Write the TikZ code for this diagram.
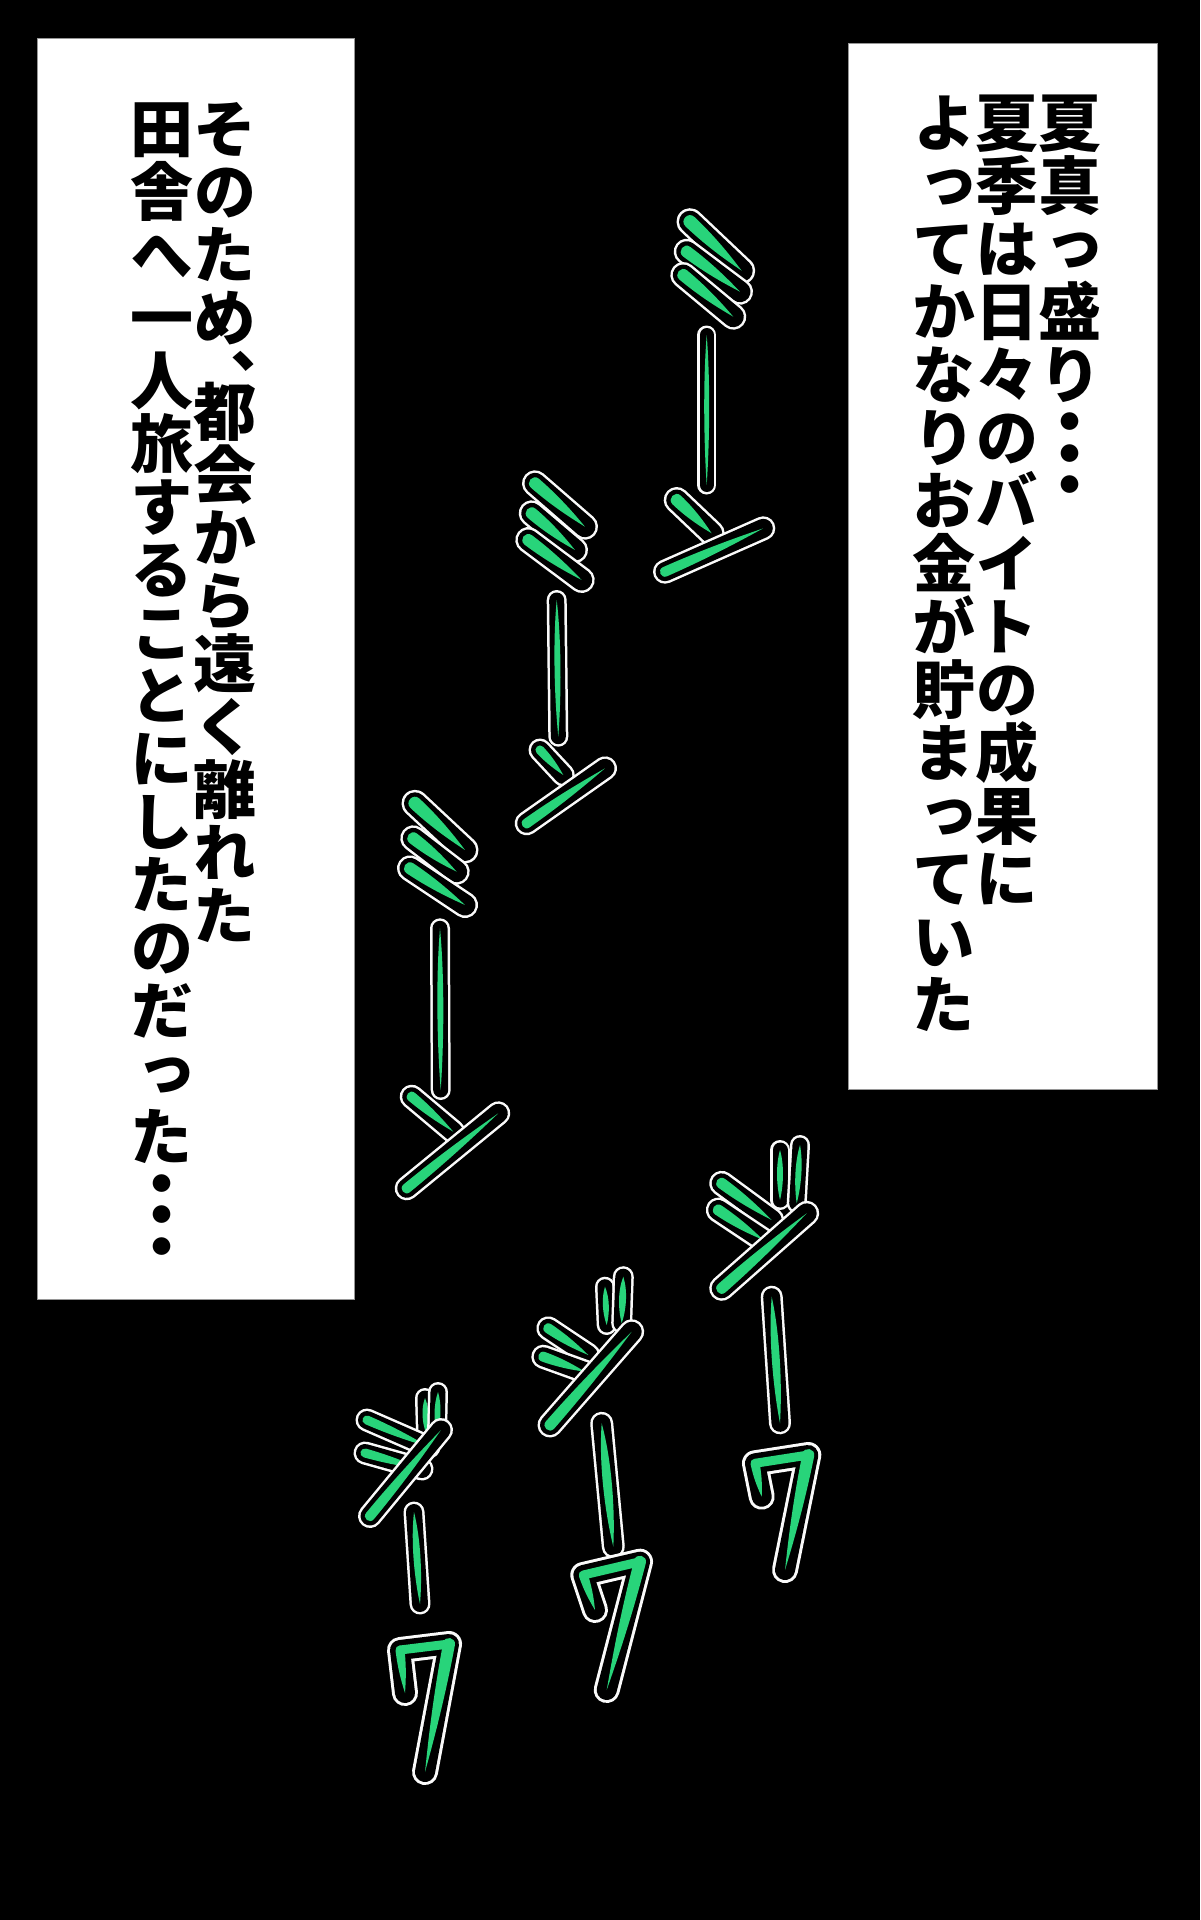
\documentclass[tikz,border=0pt]{standalone}
\usepackage{fontspec}
\newfontfamily\jp{Noto Sans CJK JP}[RawFeature=+vert]
\definecolor{sfgreen}{RGB}{40,212,122}
\definecolor{sfwhite}{RGB}{250,250,250}
\definecolor{panelline}{RGB}{150,150,150}
% green leaf: thick end (#1,#2), pointed end (#3,#4), width #5
\newcommand\sfleafgreen[5]{%
  \pgfmathsetmacro\lfang{atan2(-(#4-#2),#3-#1)}%
  \pgfmathsetmacro\lflen{veclen(#3-#1,#4-#2)}%
  \begin{scope}[shift={(#1,#2)}, rotate=\lfang]
    \fill[sfgreen] (0,#5/2) .. controls (0.45*\lflen,#5/2) and (0.8*\lflen,#5*0.18) .. (\lflen,0)
      .. controls (0.8*\lflen,-#5*0.18) and (0.45*\lflen,-#5/2) .. (0,-#5/2)
      .. controls (-0.667*#5,-#5/2) and (-0.667*#5,#5/2) .. (0,#5/2) -- cycle;
  \end{scope}}
\newcommand\sfcapsule[5]{%
  \draw[sfwhite, line width=#5pt+14pt, line cap=round] (#1,#2) -- (#3,#4);
  \draw[black, line width=#5pt+9pt, line cap=round] (#1,#2) -- (#3,#4);}
\newcommand\sfleaf[5]{%
  \sfcapsule{#1}{#2}{#3}{#4}{#5}%
  \sfleafgreen{#1}{#2}{#3}{#4}{#5}}
% spindle bar, pointed at both ends
\newcommand\sfbar[5]{%
  \sfcapsule{#1}{#2}{#3}{#4}{#5}%
  \pgfmathsetmacro\lfang{atan2(-(#4-#2),#3-#1)}%
  \pgfmathsetmacro\lflen{veclen(#3-#1,#4-#2)}%
  \begin{scope}[shift={(#1,#2)}, rotate=\lfang]
    \fill[sfgreen] (0,0) .. controls (0.3*\lflen,0.72*#5) and (0.7*\lflen,0.6*#5) .. (\lflen,0)
      .. controls (0.7*\lflen,-0.6*#5) and (0.3*\lflen,-0.72*#5) .. (0,0) -- cycle;
  \end{scope}}
% katakana wa: top-left, left-bottom, top-right, bottom point
\newcommand\sfwa[8]{%
  \draw[sfwhite, line width=26pt, line cap=round, line join=round] (#3,#4) -- (#1,#2) -- (#5,#6) -- (#7,#8);
  \draw[black, line width=20pt, line cap=round, line join=round] (#3,#4) -- (#1,#2) -- (#5,#6) -- (#7,#8);
  \draw[sfgreen, line width=9pt, line join=round] (#1,#2) -- (#5,#6);
  \sfleafgreen{#1}{#2}{#3}{#4}{9}%
  \sfleafgreen{#5}{#6}{#7}{#8}{12}}
\begin{document}
\begin{tikzpicture}[x=1pt, y=-1pt,
  panel/.style={draw=panelline, line width=1pt, fill=white, inner sep=0pt},
  vcol/.style={anchor=north, inner sep=0pt, align=center, text=black,
    font={\jp\bfseries\fontsize{63pt}{63pt}\selectfont\lineskiplimit=-200pt}}]
\fill[black] (0,0) rectangle (1200,1920);
\useasboundingbox (0,0) rectangle (1200,1920);

% text panels
\node[panel, minimum width=317pt, minimum height=1261pt] (lbox) at (195.5,668.5) {};
\node[panel, minimum width=309pt, minimum height=1046pt] (rbox) at (1002.5,566) {};

% right panel text
\node[vcol] (rc1) at (1070,91) {\rule{0pt}{55.44pt}夏\\真\\っ\\盛\\り\\[-15.75pt]・\\[-31.5pt]・\\[-31.5pt]・};
\node[vcol] (rc2) at (1007,91) {\rule{0pt}{55.44pt}夏\\季\\は\\日\\々\\の\\バ\\イ\\ト\\の\\成\\果\\に};
\node[vcol] (rc3) at (944,91) {\rule{0pt}{55.44pt}よ\\っ\\て\\か\\な\\り\\お\\金\\が\\貯\\ま\\っ\\て\\い\\た};

% left panel text
\node[vcol] (lc1) at (225,96.5) {\rule{0pt}{55.44pt}そ\\の\\た\\め\\、\\[-31.5pt]都\\会\\か\\ら\\遠\\く\\離\\れ\\た};
\node[vcol] (lc2) at (162,96.5) {\rule{0pt}{55.44pt}田\\舎\\へ\\一\\人\\旅\\す\\る\\こ\\と\\に\\し\\た\\の\\だ\\っ\\た\\[-15.75pt]・\\[-31.5pt]・\\[-31.5pt]・};

% mi-n 1
\sfleaf{690}{221.7}{741.7}{270.7}{13}
\sfleaf{686.7}{251.7}{740}{291.7}{12}
\sfleaf{683.3}{275}{733.3}{316.7}{12}
\sfbar{706.7}{335}{706.7}{485}{5}
\sfleaf{676.7}{500}{711.7}{533.3}{12}
\sfleaf{665}{571.7}{763.3}{528.3}{10}

% mi-n 2
\sfleaf{535}{483.3}{585}{526.7}{12}
\sfleaf{531.7}{513.3}{575}{550}{12}
\sfleaf{528.3}{540}{581.7}{580}{12}
\sfbar{556.7}{600}{558.3}{736.7}{6}
\sfleaf{540}{750}{563.3}{775}{9}
\sfleaf{526.7}{823.3}{605}{768.3}{10}

% mi-n 3
\sfleaf{415}{803.3}{465}{850}{13}
\sfleaf{413.3}{838.3}{456.7}{871.7}{12}
\sfleaf{410}{868.3}{465}{905}{12}
\sfbar{440}{928.3}{440.7}{1090}{6}
\sfleaf{411.7}{1096.7}{453.3}{1131.7}{10}
\sfleaf{406.7}{1188.3}{498.3}{1113.3}{10}

% ji-wa 1
\sfbar{780}{1150}{780}{1200}{6}
\sfbar{800}{1145}{796.7}{1203.3}{6}
\sfleaf{721.7}{1183.3}{771.7}{1220}{11}
\sfleaf{718.3}{1210}{763.3}{1240}{11}
\sfleaf{721.7}{1288.3}{806.7}{1213.3}{11}
\sfbar{771.7}{1296.7}{780}{1423.3}{8}
\sfwa{755}{1463.3}{761.7}{1496.7}{808.3}{1455}{785}{1570}

% ji-wa 2
\sfbar{605}{1286.7}{606.7}{1325}{6}
\sfbar{623.3}{1276.7}{621.7}{1323.3}{7}
\sfleaf{548.3}{1328.3}{588.3}{1355}{10}
\sfleaf{543.3}{1356.7}{585}{1371.7}{10}
\sfleaf{550}{1425}{631.7}{1331.7}{11}
\sfbar{601.7}{1423.3}{613.3}{1546.7}{9}
\sfwa{583.3}{1575}{595}{1610}{640}{1561.7}{606.7}{1690}

% ji-wa 3
\sfbar{425}{1398}{426}{1433}{6}
\sfbar{438}{1392}{437}{1435}{6}
\sfleaf{367}{1420}{429}{1447}{9}
\sfleaf{365}{1453}{422}{1469}{9}
\sfleaf{370}{1516}{441}{1430}{10}
\sfbar{414}{1512}{420}{1604}{7}
\sfwa{400}{1650}{405}{1693}{449}{1644}{425}{1772}
\end{tikzpicture}
\end{document}
